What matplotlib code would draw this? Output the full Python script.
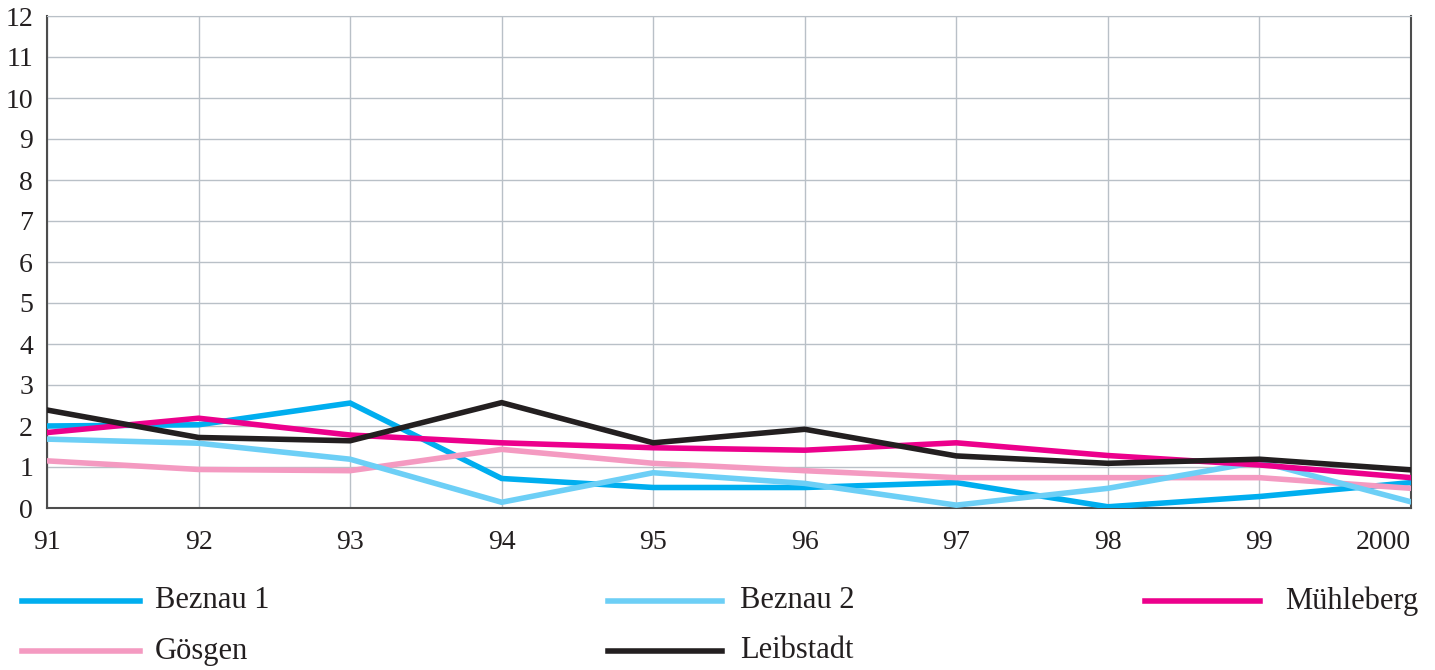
import matplotlib
matplotlib.use("Agg")
import matplotlib.pyplot as plt
from matplotlib.lines import Line2D

plt.rcParams['font.family'] = ['Liberation Serif', 'DejaVu Serif']

years = ["91", "92", "93", "94", "95", "96", "97", "98", "99", "2000"]

beznau1 = [2.0, 2.03, 2.56, 0.72, 0.5, 0.5, 0.62, 0.03, 0.28, 0.62]
beznau2 = [1.68, 1.58, 1.19, 0.14, 0.86, 0.6, 0.07, 0.48, 1.13, 0.15]
muehleberg = [1.84, 2.19, 1.78, 1.59, 1.47, 1.41, 1.59, 1.28, 1.05, 0.74]
goesgen = [1.15, 0.94, 0.91, 1.43, 1.09, 0.91, 0.74, 0.74, 0.74, 0.48]
leibstadt = [2.39, 1.72, 1.64, 2.57, 1.59, 1.92, 1.27, 1.09, 1.19, 0.93]

names = ["Beznau 1", "Beznau 2", "Mühleberg", "Gösgen", "Leibstadt"]
colors = {"Beznau 1": "#00aeef", "Beznau 2": "#6dcff6", "Mühleberg": "#ec008c",
          "Gösgen": "#f49ac1", "Leibstadt": "#231f20"}
series = {"Beznau 1": beznau1, "Beznau 2": beznau2, "Mühleberg": muehleberg,
          "Gösgen": goesgen, "Leibstadt": leibstadt}
draw_order = ["Beznau 1", "Gösgen", "Beznau 2", "Mühleberg", "Leibstadt"]

W, H = 1435, 670
fig = plt.figure(figsize=(W / 100, H / 100), dpi=100)
ax = fig.add_axes([47 / W, (H - 508) / H, (1411 - 47) / W, (508 - 16) / H])

x = list(range(len(years)))
for name in draw_order:
    ax.plot(x, series[name], color=colors[name], lw=4, solid_joinstyle="miter", zorder=3)

ax.set_xlim(0, len(years) - 1)
ax.set_ylim(0, 12)
ax.set_xticks(x)
ax.set_xticklabels(years)
ax.set_yticks(range(0, 13))
ax.grid(True, color="#b9c0c7", lw=1.0, zorder=0)
ax.tick_params(length=0, labelsize=20, colors="#231f20")
ax.tick_params(axis="y", pad=10)
ax.tick_params(axis="x", pad=16)
# last x label sits right-aligned at the axis edge
ax.get_xticklabels()[-1].set_horizontalalignment("right")
for side in ["left", "bottom", "right"]:
    ax.spines[side].set_color("#4d4d4d")
    ax.spines[side].set_linewidth(1.5)
ax.spines["top"].set_color("#b9c0c7")

# legend, drawn by hand in figure pixels
legend_pos = {
    "Beznau 1": (22, 140, 155, 601, "left"),
    "Beznau 2": (608, 722, 740, 601, "left"),
    "Mühleberg": (1145, 1260, 1418, 601, "right"),
    "Gösgen": (22, 140, 155, 651, "left"),
    "Leibstadt": (608, 722, 740, 651, "left"),
}
for name in names:
    x0, x1, tx, y, ha = legend_pos[name]
    fig.add_artist(Line2D([x0 / W, x1 / W], [(H - y) / H, (H - y) / H],
                          transform=fig.transFigure, color=colors[name], lw=4))
    fig.text(tx / W, (H - y) / H, name, ha=ha, va="center", fontsize=22, color="#231f20")

fig.savefig("out.png", dpi=100)
